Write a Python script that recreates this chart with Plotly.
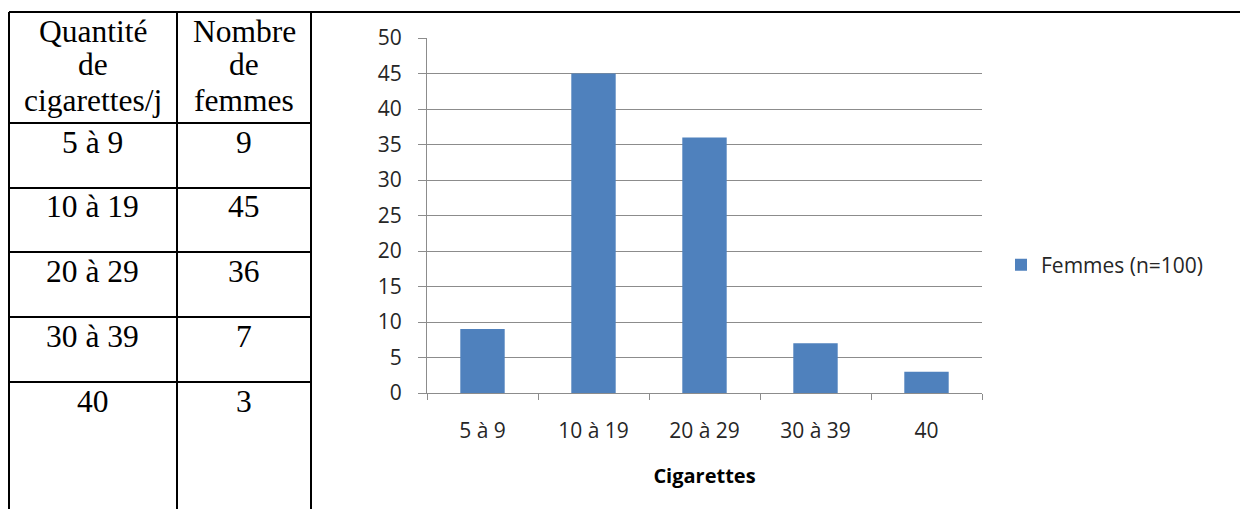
import plotly.graph_objects as go

W, H = 1248, 509
OFF = 8  # page body margin in the browser

categories = ["5 à 9", "10 à 19", "20 à 29", "30 à 39", "40"]
femmes = [9, 45, 36, 7, 3]
series_name = "Femmes (n=100)"
x_title = "Cigarettes"
header_col1 = ["Quantité", "de", "cigarettes/j"]
header_col2 = ["Nombre", "de", "femmes"]
y_ticks = [0, 5, 10, 15, 20, 25, 30, 35, 40, 45, 50]


def X(px):
    return (px - OFF) / W


def Y(py):
    return 1 - (py - OFF) / H


fig = go.Figure()
fig.add_trace(go.Bar(
    x=categories, y=femmes, name=series_name,
    marker=dict(color="#4F81BD", line=dict(width=0)),
    showlegend=True,
))

CHART_FONT = "Open Sans"
GRID = "#8C8C8C"

fig.update_layout(
    width=W, height=H, autosize=False,
    margin=dict(l=0, r=0, t=0, b=0, autoexpand=False),
    paper_bgcolor="white", plot_bgcolor="white",
    bargap=0.6,
    showlegend=True,
    legend=dict(x=X(1001), y=Y(265), xanchor="left", yanchor="middle",
                font=dict(family=CHART_FONT, size=21, color="#262626"),
                bgcolor="rgba(0,0,0,0)"),
    xaxis=dict(
        domain=[X(427), X(982)],
        type="category",
        automargin=False,
        showline=True, linecolor=GRID, linewidth=1,
        ticks="outside", ticklen=6, tickcolor=GRID, tickson="boundaries",
        showgrid=False,
        tickfont=dict(family=CHART_FONT, size=21, color="#262626"),
        ticklabelstandoff=19,
        title=dict(text="<b>" + x_title + "</b>",
                   font=dict(family=CHART_FONT, size=20, color="#000000"),
                   standoff=25),
    ),
    yaxis=dict(
        domain=[Y(393), Y(38)],
        range=[0, 50],
        tickvals=y_ticks,
        automargin=False,
        showline=True, linecolor=GRID, linewidth=1,
        ticks="outside", ticklen=8, tickcolor=GRID,
        showgrid=True, gridcolor=GRID, gridwidth=1,
        zeroline=False,
        tickfont=dict(family=CHART_FONT, size=21, color="#262626"),
        ticklabelstandoff=12,
    ),
)

# Table lines (left side)
shapes = []
line_style = dict(color="black", width=2)
shapes.append(dict(type="line", xref="paper", yref="paper",
                   x0=X(9), x1=X(1260), y0=Y(12), y1=Y(12), line=line_style))
for vx in [9, 177, 311]:
    shapes.append(dict(type="line", xref="paper", yref="paper",
                       x0=X(vx), x1=X(vx), y0=Y(12), y1=Y(525), line=line_style))
for hy in [123, 188, 252, 317, 382]:
    shapes.append(dict(type="line", xref="paper", yref="paper",
                       x0=X(9), x1=X(311), y0=Y(hy), y1=Y(hy), line=line_style))
fig.update_layout(shapes=shapes)

TFONT = dict(family="Liberation Serif", size=31.5, color="black")
annotations = []
c1, c2 = 92.5, 244
header_y = [31, 65, 100]
for txt, yy in zip(header_col1, header_y):
    annotations.append(dict(text=txt, x=X(c1), y=Y(yy), xref="paper", yref="paper",
                            showarrow=False, xanchor="center", yanchor="middle", font=TFONT))
for txt, yy in zip(header_col2, header_y):
    annotations.append(dict(text=txt, x=X(c2), y=Y(yy), xref="paper", yref="paper",
                            showarrow=False, xanchor="center", yanchor="middle", font=TFONT))
row_y = [142, 206, 271, 336, 401]
for cat, val, yy in zip(categories, femmes, row_y):
    annotations.append(dict(text=cat, x=X(c1), y=Y(yy), xref="paper", yref="paper",
                            showarrow=False, xanchor="center", yanchor="middle", font=TFONT))
    annotations.append(dict(text=str(val), x=X(c2), y=Y(yy), xref="paper", yref="paper",
                            showarrow=False, xanchor="center", yanchor="middle", font=TFONT))
fig.update_layout(annotations=annotations)

fig.write_html("out.html")
